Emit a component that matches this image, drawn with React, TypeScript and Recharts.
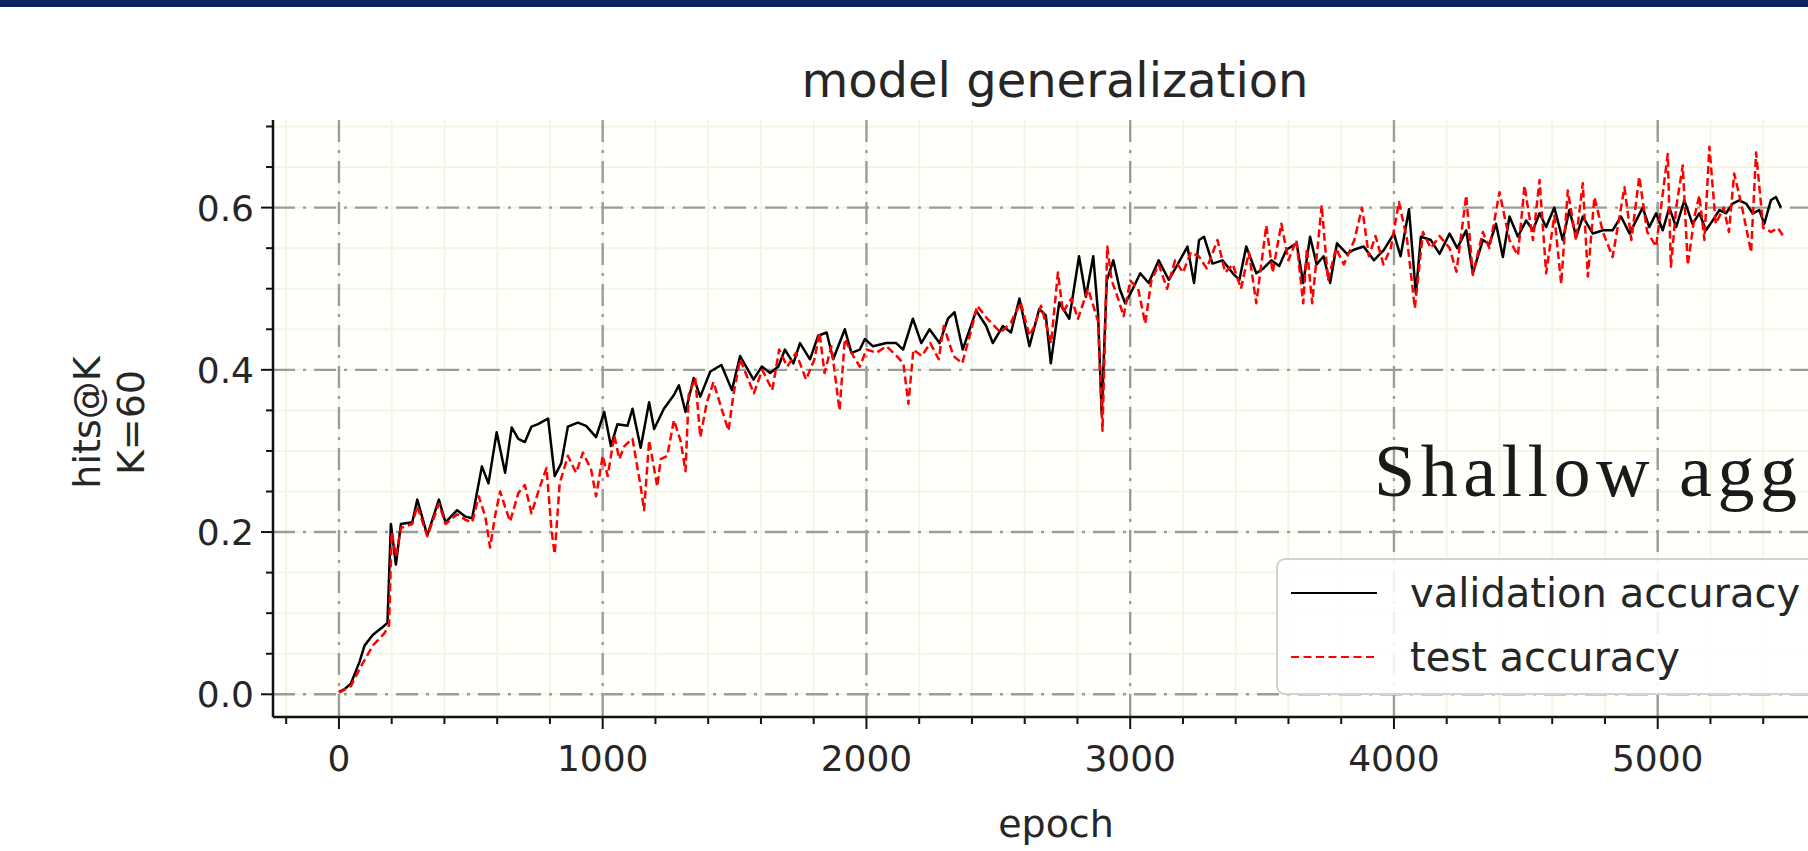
import React from 'react';
import { LineChart, Line, XAxis, YAxis, CartesianGrid, Legend } from 'recharts';

// ---------------- data ----------------
const valEpochs = [
  0, 20, 45, 78, 97, 128, 166, 184, 197, 216, 235, 278, 297, 335, 379, 404, 448, 480, 505, 542,
  567, 598, 630, 655, 680, 705, 730, 755, 793, 818, 843, 868, 906, 937, 975, 1006, 1031, 1056, 1094, 1113,
  1144, 1176, 1195, 1232, 1270, 1289, 1314, 1345, 1370, 1408, 1450, 1490, 1521, 1572, 1603, 1635, 1666, 1691, 1723, 1748,
  1786, 1817, 1849, 1874, 1918, 1943, 1975, 1994, 2025, 2076, 2113, 2139, 2176, 2208, 2239, 2277, 2309, 2334, 2365, 2416,
  2454, 2479, 2517, 2548, 2580, 2618, 2655, 2680, 2699, 2731, 2769, 2806, 2832, 2860, 2878, 2892, 2911, 2936, 2960, 2981,
  3010, 3038, 3070, 3108, 3146, 3180, 3217, 3242, 3261, 3280, 3312, 3350, 3389, 3414, 3440, 3478, 3505, 3535, 3565, 3592,
  3631, 3656, 3682, 3707, 3733, 3758, 3784, 3822, 3848, 3885, 3924, 3962, 4000, 4025, 4057, 4083, 4102, 4140, 4173, 4211,
  4240, 4274, 4299, 4337, 4362, 4387, 4413, 4438, 4470, 4501, 4527, 4552, 4577, 4608, 4640, 4665, 4691, 4716, 4754, 4792,
  4829, 4861, 4893, 4918, 4943, 4968, 4994, 5019, 5044, 5070, 5101, 5132, 5158, 5183, 5208, 5234, 5259, 5284, 5309, 5335,
  5360, 5385, 5404, 5429, 5448, 5467,
];
const valAcc = [
  0.003, 0.006, 0.013, 0.04, 0.06, 0.073, 0.083, 0.088, 0.21, 0.16, 0.21, 0.212, 0.24, 0.196, 0.24, 0.212, 0.227, 0.219, 0.217, 0.281,
  0.26, 0.323, 0.273, 0.329, 0.315, 0.311, 0.33, 0.333, 0.34, 0.269, 0.285, 0.33, 0.335, 0.331, 0.317, 0.348, 0.306, 0.333, 0.331, 0.352,
  0.304, 0.36, 0.327, 0.352, 0.369, 0.381, 0.348, 0.39, 0.367, 0.398, 0.406, 0.375, 0.417, 0.388, 0.404, 0.396, 0.404, 0.425, 0.408, 0.433,
  0.413, 0.442, 0.446, 0.413, 0.45, 0.421, 0.425, 0.438, 0.429, 0.433, 0.433, 0.425, 0.463, 0.433, 0.45, 0.433, 0.463, 0.471, 0.425, 0.473,
  0.454, 0.433, 0.454, 0.446, 0.488, 0.429, 0.475, 0.467, 0.408, 0.483, 0.463, 0.54, 0.49, 0.54, 0.47, 0.345, 0.51, 0.535, 0.5, 0.482,
  0.5, 0.519, 0.507, 0.535, 0.511, 0.53, 0.552, 0.507, 0.56, 0.564, 0.531, 0.535, 0.519, 0.511, 0.552, 0.519, 0.525, 0.535, 0.528, 0.548,
  0.556, 0.507, 0.564, 0.53, 0.54, 0.507, 0.556, 0.543, 0.548, 0.552, 0.535, 0.548, 0.568, 0.54, 0.598, 0.494, 0.564, 0.56, 0.543, 0.568,
  0.55, 0.572, 0.519, 0.56, 0.555, 0.58, 0.539, 0.589, 0.564, 0.584, 0.572, 0.593, 0.576, 0.6, 0.56, 0.597, 0.564, 0.589, 0.568, 0.572,
  0.572, 0.589, 0.568, 0.584, 0.6, 0.576, 0.593, 0.572, 0.6, 0.576, 0.609, 0.58, 0.593, 0.572, 0.584, 0.597, 0.593, 0.605, 0.609, 0.605,
  0.593, 0.597, 0.58, 0.609, 0.613, 0.6,
];

const testEpochs = [
  0, 45, 78, 128, 172, 190, 200, 216, 235, 278, 297, 335, 379, 404, 448, 480, 505, 530, 555, 573,
  592, 611, 630, 649, 680, 705, 730, 762, 787, 806, 818, 837, 868, 899, 925, 956, 975, 1000, 1019, 1044,
  1063, 1082, 1113, 1144, 1157, 1176, 1207, 1220, 1245, 1270, 1295, 1314, 1326, 1351, 1370, 1395, 1420, 1445, 1477, 1496,
  1521, 1547, 1573, 1605, 1643, 1669, 1700, 1733, 1771, 1803, 1822, 1841, 1867, 1898, 1918, 1950, 1975, 2000, 2038, 2076,
  2115, 2140, 2159, 2178, 2210, 2242, 2274, 2293, 2330, 2363, 2395, 2420, 2458, 2509, 2547, 2585, 2618, 2637, 2662, 2700,
  2726, 2745, 2777, 2802, 2840, 2878, 2895, 2913, 2930, 2952, 2975, 3000, 3030, 3057, 3080, 3108, 3140, 3170, 3200, 3230,
  3260, 3290, 3331, 3360, 3389, 3420, 3450, 3478, 3516, 3540, 3573, 3600, 3630, 3656, 3670, 3690, 3726, 3750, 3780, 3810,
  3850, 3879, 3905, 3930, 3960, 3988, 4019, 4050, 4079, 4110, 4140, 4173, 4211, 4237, 4274, 4299, 4337, 4362, 4400, 4438,
  4470, 4495, 4527, 4552, 4577, 4608, 4634, 4659, 4690, 4716, 4735, 4760, 4792, 4829, 4874, 4900, 4930, 4960, 4994, 5038,
  5050, 5070, 5095, 5114, 5140, 5158, 5177, 5196, 5220, 5250, 5270, 5290, 5320, 5354, 5373, 5400, 5430, 5455, 5474,
];
const testAcc = [
  0.002, 0.01, 0.031, 0.06, 0.075, 0.085, 0.2, 0.17, 0.205, 0.21, 0.232, 0.195, 0.235, 0.21, 0.222, 0.215, 0.212, 0.244, 0.219, 0.181,
  0.22, 0.25, 0.231, 0.213, 0.248, 0.258, 0.223, 0.256, 0.279, 0.202, 0.173, 0.26, 0.294, 0.273, 0.298, 0.277, 0.244, 0.294, 0.269, 0.319,
  0.29, 0.306, 0.315, 0.256, 0.227, 0.313, 0.256, 0.29, 0.294, 0.338, 0.313, 0.275, 0.369, 0.39, 0.317, 0.36, 0.385, 0.358, 0.325, 0.37,
  0.413, 0.392, 0.371, 0.4, 0.375, 0.425, 0.404, 0.421, 0.388, 0.413, 0.446, 0.396, 0.429, 0.35, 0.438, 0.417, 0.404, 0.425, 0.421, 0.429,
  0.417, 0.408, 0.358, 0.425, 0.417, 0.433, 0.413, 0.454, 0.417, 0.408, 0.446, 0.479, 0.463, 0.446, 0.458, 0.483, 0.442, 0.454, 0.479, 0.433,
  0.52, 0.471, 0.488, 0.463, 0.5, 0.46, 0.325, 0.552, 0.51, 0.49, 0.466, 0.51, 0.5, 0.457, 0.51, 0.53, 0.5, 0.535, 0.52, 0.545,
  0.54, 0.525, 0.56, 0.52, 0.53, 0.5, 0.545, 0.482, 0.578, 0.52, 0.58, 0.535, 0.56, 0.482, 0.55, 0.482, 0.603, 0.51, 0.55, 0.53,
  0.56, 0.6, 0.54, 0.565, 0.53, 0.55, 0.607, 0.56, 0.476, 0.57, 0.55, 0.565, 0.55, 0.521, 0.615, 0.517, 0.57, 0.55, 0.619, 0.56,
  0.541, 0.627, 0.56, 0.634, 0.519, 0.59, 0.506, 0.621, 0.56, 0.63, 0.515, 0.613, 0.57, 0.539, 0.625, 0.56, 0.638, 0.57, 0.552, 0.666,
  0.527, 0.6, 0.652, 0.529, 0.59, 0.615, 0.56, 0.675, 0.58, 0.6, 0.57, 0.642, 0.6, 0.545, 0.668, 0.575, 0.57, 0.575, 0.566,
];

const seriesNames = ['validation accuracy', 'test accuracy'];
const seriesColors = ['#000000', '#ff0000'];
const xMajorTicks = [0, 1000, 2000, 3000, 4000, 5000];
const xTickLabels = ['0', '1000', '2000', '3000', '4000', '5000'];
const xMinorTicks = [
  -200, 0, 200, 400, 600, 800, 1000, 1200, 1400, 1600, 1800, 2000, 2200, 2400, 2600, 2800, 3000,
  3200, 3400, 3600, 3800, 4000, 4200, 4400, 4600, 4800, 5000, 5200, 5400, 5600,
];
const yMajorTicks = [0, 0.2, 0.4, 0.6];
const yTickLabels = ['0.0', '0.2', '0.4', '0.6'];
const yMinorTicks = [0, 0.05, 0.1, 0.15, 0.2, 0.25, 0.3, 0.35, 0.4, 0.45, 0.5, 0.55, 0.6, 0.65, 0.7];
const xDomain = [-250, 5748];
const yDomain = [-0.028, 0.708];
const titleText = 'model generalization';
const xLabelText = 'epoch';
const yLabelLines = ['hits@K', 'K=60'];
const overlayText = 'Shallow agg';

const valData = valEpochs.map((epoch, i) => ({ epoch, acc: valAcc[i] }));
const testData = testEpochs.map((epoch, i) => ({ epoch, acc: testAcc[i] }));

// ---------------- styling ----------------
const FONT = '"DejaVu Sans", Verdana, sans-serif';
const TEXT = '#262626';
const TICK_FS = 36;

const majorIndex = (v: number, majors: number[]) => majors.findIndex((m) => Math.abs(m - v) < 1e-6);

const YTick = (props: any) => {
  const { x, y, payload } = props;
  const mi = majorIndex(payload.value, yMajorTicks);
  const len = mi >= 0 ? 12 : 7;
  return (
    <g>
      <line x1={x} x2={x - len} y1={y} y2={y} stroke="#111" strokeWidth={2} />
      {mi >= 0 && (
        <text x={x - 19} y={y} dy="0.36em" textAnchor="end" fontFamily={FONT} fontSize={TICK_FS} fill={TEXT}>
          {yTickLabels[mi]}
        </text>
      )}
    </g>
  );
};

const XTick = (props: any) => {
  const { x, y, payload } = props;
  const mi = majorIndex(payload.value, xMajorTicks);
  const len = mi >= 0 ? 12 : 7;
  return (
    <g>
      <line x1={x} x2={x} y1={y} y2={y + len} stroke="#111" strokeWidth={2} />
      {mi >= 0 && (
        <text x={x} y={y + 54} textAnchor="middle" fontFamily={FONT} fontSize={TICK_FS} fill={TEXT}>
          {xTickLabels[mi]}
        </text>
      )}
    </g>
  );
};

const renderXLabel = (props: any) => {
  const vb = props.viewBox || {};
  return (
    <text x={vb.x + vb.width / 2 - 8} y={vb.y + 120} textAnchor="middle" fontFamily={FONT} fontSize={38} fill={TEXT}>
      {xLabelText}
    </text>
  );
};

const renderYLabel = (props: any) => {
  const vb = props.viewBox || {};
  const cy = vb.y + vb.height / 2 + 4;
  return (
    <g>
      <text x={100} y={cy} transform={`rotate(-90 100 ${cy})`} textAnchor="middle" fontFamily={FONT} fontSize={38} fill={TEXT}>
        {yLabelLines[0]}
      </text>
      <text x={144} y={cy} transform={`rotate(-90 144 ${cy})`} textAnchor="middle" fontFamily={FONT} fontSize={38} fill={TEXT}>
        {yLabelLines[1]}
      </text>
    </g>
  );
};

const renderLegend = (props: any) => {
  const payload = props.payload || [];
  const items = seriesNames.map((name, i) => {
    const entry = payload.find((p: any) => p.value === name);
    return { name, color: (entry && entry.color) || seriesColors[i], dashed: i === 1 };
  });
  return (
    <div
      style={{
        boxSizing: 'border-box',
        width: 557,
        height: 137,
        border: '2px solid #d2d2d2',
        borderRadius: 9,
        background: 'rgba(255,255,255,0.85)',
        paddingTop: 1,
        paddingLeft: 13,
      }}
    >
      {items.map((it, i) => (
        <div key={i} style={{ display: 'flex', alignItems: 'center', height: 64 }}>
          <svg width={86} height={10} style={{ display: 'block' }}>
            <line
              x1={0}
              x2={86}
              y1={5}
              y2={5}
              stroke={it.color}
              strokeWidth={2}
              strokeDasharray={it.dashed ? '8 4.5' : undefined}
            />
          </svg>
          <span style={{ marginLeft: 33, fontSize: 40, fontFamily: FONT, color: TEXT, whiteSpace: 'nowrap', lineHeight: 'normal' }}>
            {it.name}
          </span>
        </div>
      ))}
    </div>
  );
};

export default function App() {
  return (
    <div
      style={{
        position: 'fixed',
        left: 0,
        top: 0,
        width: 1808,
        height: 851,
        overflow: 'hidden',
        background: '#ffffff',
      }}
    >
      <LineChart width={1880} height={851} margin={{ top: 120, right: 25, bottom: 0, left: 0 }}>
        <CartesianGrid
          horizontalValues={yMinorTicks}
          verticalValues={xMinorTicks}
          stroke="#f5f5e5"
          strokeWidth={2}
          fill="#fffffc"
        />
        <CartesianGrid
          horizontalValues={yMajorTicks}
          verticalValues={xMajorTicks}
          stroke="#9c9c9c"
          strokeWidth={2.4}
          strokeDasharray="22 8 3 8"
        />
        <XAxis
          xAxisId={0}
          dataKey="epoch"
          type="number"
          domain={xDomain}
          allowDataOverflow
          ticks={xMinorTicks}
          interval={0}
          tick={<XTick />}
          tickLine={false}
          tickSize={0}
          tickMargin={0}
          height={134}
          axisLine={{ stroke: '#111', strokeWidth: 2.5 }}
          label={renderXLabel}
        />
        <XAxis
          xAxisId="top"
          orientation="top"
          type="number"
          domain={xDomain}
          allowDataOverflow
          height={0}
          tick={false}
          tickLine={false}
          axisLine={{ stroke: '#111', strokeWidth: 2.5 }}
        />
        <YAxis
          type="number"
          domain={yDomain}
          allowDataOverflow
          ticks={yMinorTicks}
          interval={0}
          tick={<YTick />}
          tickLine={false}
          tickSize={0}
          tickMargin={0}
          width={273}
          axisLine={{ stroke: '#111', strokeWidth: 2.5 }}
          label={renderYLabel}
        />
        <Line
          data={valData}
          dataKey="acc"
          name={seriesNames[0]}
          type="linear"
          stroke={seriesColors[0]}
          strokeWidth={2.5}
          strokeLinejoin="round"
          dot={false}
          activeDot={false}
          isAnimationActive={false}
        />
        <Line
          data={testData}
          dataKey="acc"
          name={seriesNames[1]}
          type="linear"
          stroke={seriesColors[1]}
          strokeWidth={2.5}
          strokeDasharray="8 4"
          strokeLinejoin="round"
          dot={false}
          activeDot={false}
          isAnimationActive={false}
        />
        <Legend
          layout="vertical"
          align="center"
          verticalAlign="middle"
          content={renderLegend}
          wrapperStyle={{ left: 1276, top: 558, width: 557, height: 137 }}
        />
      </LineChart>
      <svg
        width={1808}
        height={851}
        style={{ position: 'absolute', left: 0, top: 0, pointerEvents: 'none' }}
      >
        <rect x={0} y={0} width={1808} height={7} fill="#0d2163" />
        <text x={1055} y={97} textAnchor="middle" fontFamily={FONT} fontSize={48} fill={TEXT}>
          {titleText}
        </text>
        <text
          x={1374}
          y={496}
          fontFamily='"Liberation Serif", "DejaVu Serif", serif'
          fontSize={74}
          letterSpacing={5.5}
          fill="#1a1a1a"
        >
          {overlayText}
        </text>
      </svg>
    </div>
  );
}
